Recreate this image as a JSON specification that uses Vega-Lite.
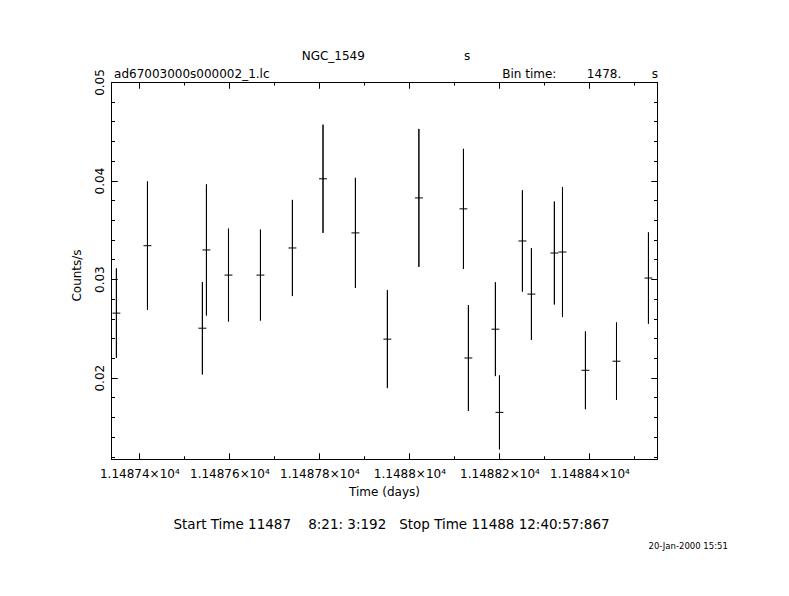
{
  "$schema": "https://vega.github.io/schema/vega-lite/v6.json",
  "width": 546,
  "height": 377,
  "autosize": {"type": "none"},
  "padding": {"left": 111, "top": 82, "right": 132, "bottom": 137},
  "background": "white",
  "config": {
    "font": "DejaVu Sans",
    "view": {"stroke": "black", "strokeWidth": 1},
    "axis": {
      "domainColor": "black", "tickColor": "black", "labelColor": "black", "titleColor": "black",
      "grid": false, "gridColor": "black", "gridOpacity": 1, "gridWidth": 1,
      "labelFont": "DejaVu Sans", "titleFont": "DejaVu Sans",
      "labelFontSize": 12, "titleFontSize": 12, "titleFontWeight": "normal",
      "labelFlush": false, "labelOverlap": false, "tickWidth": 1, "domainWidth": 1, "ticks": true
    }
  },
  "title": {
    "text": "NGC_1549\u00a0\u00a0\u00a0\u00a0\u00a0\u00a0\u00a0\u00a0\u00a0\u00a0\u00a0\u00a0\u00a0\u00a0\u00a0\u00a0\u00a0\u00a0\u00a0\u00a0\u00a0\u00a0\u00a0\u00a0\u00a0\u00a0s",
    "subtitle": "ad67003000s000002_1.lc\u00a0\u00a0\u00a0\u00a0\u00a0\u00a0\u00a0\u00a0\u00a0\u00a0\u00a0\u00a0\u00a0\u00a0\u00a0\u00a0\u00a0\u00a0\u00a0\u00a0\u00a0\u00a0\u00a0\u00a0\u00a0\u00a0\u00a0\u00a0\u00a0\u00a0\u00a0\u00a0\u00a0\u00a0\u00a0\u00a0\u00a0\u00a0\u00a0\u00a0\u00a0\u00a0\u00a0\u00a0\u00a0\u00a0\u00a0\u00a0\u00a0\u00a0\u00a0\u00a0\u00a0\u00a0\u00a0\u00a0\u00a0\u00a0\u00a0\u00a0\u00a0Bin time:\u00a0\u00a0\u00a0\u00a0\u00a0\u00a0\u00a0\u00a01478.\u00a0\u00a0\u00a0\u00a0\u00a0\u00a0\u00a0\u00a0s",
    "anchor": "middle",
    "frame": "group",
    "font": "DejaVu Sans",
    "subtitleFont": "DejaVu Sans",
    "fontSize": 12,
    "subtitleFontSize": 12,
    "fontWeight": "normal",
    "color": "black",
    "subtitleColor": "black",
    "offset": -12,
    "subtitlePadding": 6,
    "dx": 2
  },
  "data": {
    "values": [
      {"t": 11487.349, "t0": 11487.3402, "t1": 11487.3578, "rate": 0.02655, "lo": 0.02201, "hi": 0.03109},
      {"t": 11487.418, "t0": 11487.4092, "t1": 11487.4268, "rate": 0.03339, "lo": 0.02687, "hi": 0.03991},
      {"t": 11487.540, "t0": 11487.5312, "t1": 11487.5488, "rate": 0.02502, "lo": 0.02033, "hi": 0.02971},
      {"t": 11487.549, "t0": 11487.5402, "t1": 11487.5578, "rate": 0.03296, "lo": 0.02631, "hi": 0.03961},
      {"t": 11487.598, "t0": 11487.5892, "t1": 11487.6068, "rate": 0.03041, "lo": 0.02570, "hi": 0.03512},
      {"t": 11487.669, "t0": 11487.6602, "t1": 11487.6778, "rate": 0.03041, "lo": 0.02580, "hi": 0.03502},
      {"t": 11487.740, "t0": 11487.7312, "t1": 11487.7488, "rate": 0.03316, "lo": 0.02828, "hi": 0.03804},
      {"t": 11487.808, "t0": 11487.7992, "t1": 11487.8168, "rate": 0.04018, "lo": 0.03469, "hi": 0.04567},
      {"t": 11487.880, "t0": 11487.8712, "t1": 11487.8888, "rate": 0.03469, "lo": 0.02910, "hi": 0.04028},
      {"t": 11487.951, "t0": 11487.9422, "t1": 11487.9598, "rate": 0.02391, "lo": 0.01894, "hi": 0.02888},
      {"t": 11488.021, "t0": 11488.0122, "t1": 11488.0298, "rate": 0.03824, "lo": 0.03124, "hi": 0.04524},
      {"t": 11488.120, "t0": 11488.1112, "t1": 11488.1288, "rate": 0.03713, "lo": 0.03104, "hi": 0.04322},
      {"t": 11488.131, "t0": 11488.1222, "t1": 11488.1398, "rate": 0.02200, "lo": 0.01663, "hi": 0.02737},
      {"t": 11488.191, "t0": 11488.1822, "t1": 11488.1998, "rate": 0.02492, "lo": 0.02016, "hi": 0.02968},
      {"t": 11488.200, "t0": 11488.1912, "t1": 11488.2088, "rate": 0.01648, "lo": 0.01273, "hi": 0.02023},
      {"t": 11488.251, "t0": 11488.2422, "t1": 11488.2598, "rate": 0.03387, "lo": 0.02873, "hi": 0.03901},
      {"t": 11488.271, "t0": 11488.2622, "t1": 11488.2798, "rate": 0.02848, "lo": 0.02382, "hi": 0.03314},
      {"t": 11488.322, "t0": 11488.3132, "t1": 11488.3308, "rate": 0.03265, "lo": 0.02743, "hi": 0.03787},
      {"t": 11488.340, "t0": 11488.3312, "t1": 11488.3488, "rate": 0.03275, "lo": 0.02615, "hi": 0.03935},
      {"t": 11488.391, "t0": 11488.3822, "t1": 11488.3998, "rate": 0.02075, "lo": 0.01680, "hi": 0.02470},
      {"t": 11488.460, "t0": 11488.4512, "t1": 11488.4688, "rate": 0.02167, "lo": 0.01774, "hi": 0.02560},
      {"t": 11488.531, "t0": 11488.5222, "t1": 11488.5398, "rate": 0.03011, "lo": 0.02548, "hi": 0.03474}
    ]
  },
  "layer": [
    {
      "mark": {"type": "rule", "color": "black", "strokeWidth": 1},
      "encoding": {
        "x": {
          "field": "t", "type": "quantitative",
          "scale": {"domain": [11487.337, 11488.55], "nice": false, "zero": false},
          "axis": {
            "orient": "bottom",
            "values": [11487.4, 11487.6, 11487.8, 11488.0, 11488.2, 11488.4],
            "tickSize": -6,
            "grid": true,
            "gridDash": [6, 365, 6, 50],
            "labelExpr": "format(datum.value/10000,'.5~f')+'\u00d710\u2074'",
            "labelBaseline": "alphabetic",
            "labelAlign": "center",
            "labelPadding": 24,
            "title": "Time (days)",
            "titleX": 273,
            "titleY": 36,
            "titleAlign": "center",
            "titleBaseline": "alphabetic"
          }
        },
        "y": {
          "field": "lo", "type": "quantitative",
          "scale": {"domain": [0.01175, 0.05], "nice": false, "zero": false},
          "axis": {
            "orient": "left",
            "values": [0.02, 0.03, 0.04, 0.05],
            "tickSize": -6,
            "grid": true,
            "gridDash": [6, 534, 6, 50],
            "format": ".2f",
            "labelAngle": -90,
            "labelAlign": "center",
            "labelBaseline": "alphabetic",
            "labelPadding": 13.7,
            "title": "Counts/s",
            "titleAngle": -90,
            "titleX": -31,
            "titleY": 193,
            "titleAlign": "center",
            "titleBaseline": "alphabetic"
          }
        },
        "y2": {"field": "hi"}
      }
    },
    {
      "mark": {"type": "rule", "color": "black", "strokeWidth": 1},
      "encoding": {
        "x": {
          "field": "t0", "type": "quantitative",
          "scale": {"domain": [11487.337, 11488.55], "nice": false, "zero": false},
          "axis": {
            "orient": "top",
            "values": [11487.4, 11487.6, 11487.8, 11488.0, 11488.2, 11488.4],
            "tickSize": -6,
            "labelExpr": "''",
            "title": "Start Time 11487\u00a0\u00a0\u00a0\u00a08:21: 3:192\u00a0\u00a0\u00a0Stop Time 11488 12:40:57:867",
            "titleFontSize": 13.5,
            "titleX": 62,
            "titleY": 446,
            "titleAlign": "left",
            "titleBaseline": "alphabetic",
            "titleAngle": 0
          }
        },
        "x2": {"field": "t1"},
        "y": {
          "field": "rate", "type": "quantitative",
          "scale": {"domain": [0.01175, 0.05], "nice": false, "zero": false},
          "axis": {
            "orient": "right",
            "values": [0.02, 0.03, 0.04, 0.05],
            "tickSize": -6,
            "labelExpr": "''",
            "title": "20-Jan-2000 15:51",
            "titleFontSize": 8.5,
            "titleAngle": 0,
            "titleX": -9,
            "titleY": 466,
            "titleAlign": "left",
            "titleBaseline": "alphabetic"
          }
        }
      }
    },
    {
      "mark": {"type": "rule", "color": "black", "strokeWidth": 1},
      "encoding": {
        "x": {
          "field": "t", "type": "quantitative",
          "scale": {"domain": [11487.337, 11488.55], "nice": false, "zero": false},
          "axis": {
            "orient": "bottom",
            "values": [11487.5, 11487.7, 11487.9, 11488.1, 11488.3, 11488.5],
            "tickSize": -3,
            "grid": true,
            "gridDash": [3, 371, 3, 50],
            "labelExpr": "''",
            "title": null
          }
        },
        "y": {
          "field": "lo", "type": "quantitative",
          "scale": {"domain": [0.01175, 0.05], "nice": false, "zero": false},
          "axis": {
            "orient": "left",
            "values": [0.012, 0.014, 0.016, 0.018, 0.022, 0.024, 0.026, 0.028, 0.032, 0.034, 0.036, 0.038, 0.042, 0.044, 0.046, 0.048],
            "tickSize": -3.5,
            "grid": true,
            "gridDash": [3.5, 539, 3.5, 50],
            "labelExpr": "''",
            "title": null
          }
        },
        "y2": {"field": "hi"}
      }
    }
  ],
  "resolve": {"axis": {"x": "independent", "y": "independent"}}
}
